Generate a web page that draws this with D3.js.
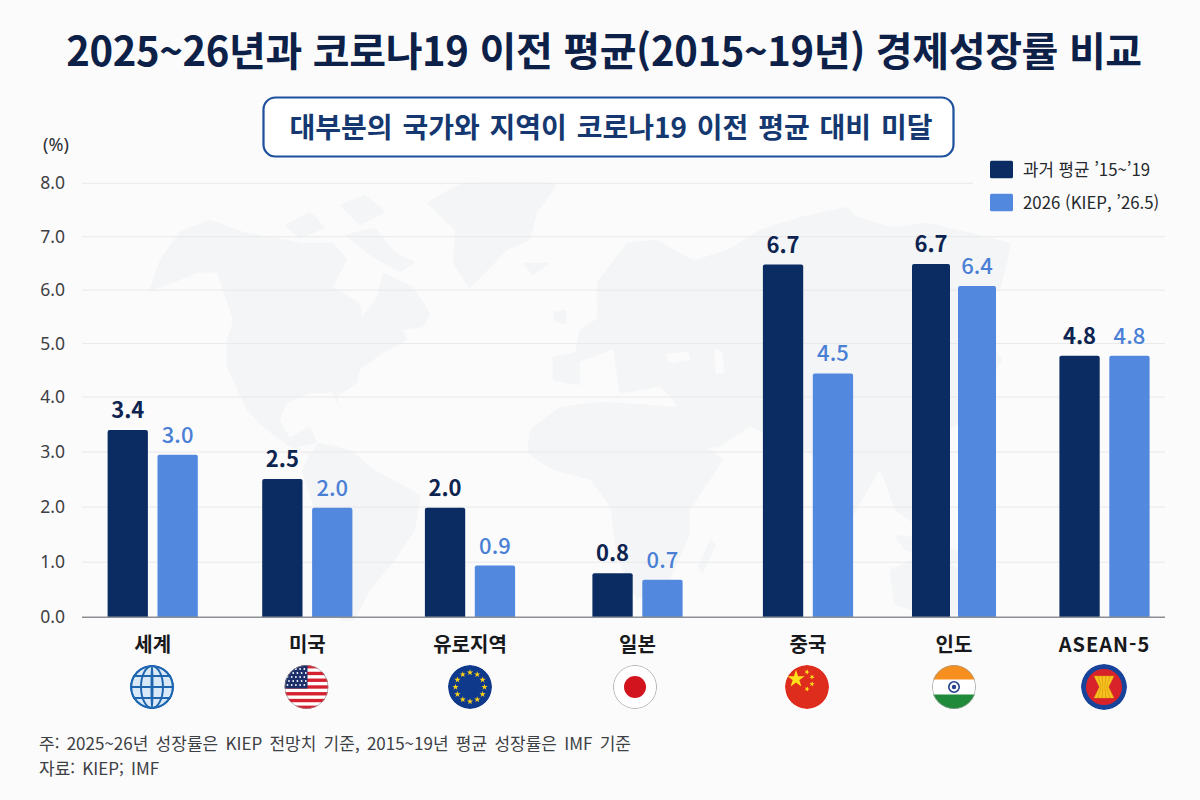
<!DOCTYPE html>
<html lang="ko">
<head>
<meta charset="utf-8">
<script src="https://cdnjs.cloudflare.com/ajax/libs/d3/7.8.5/d3.min.js"></script>
<style>
	html, body { margin: 0; padding: 0; background: #fbfbfb; }
	svg { display: block; }
	text { font-family: "Noto Sans CJK KR", "Noto Sans", sans-serif; }
</style>
</head>
<body>
<div id="chart"></div>
<script>
let categories	= ["세계", "미국", "유로지역", "일본", "중국", "인도", "ASEAN-5"];
// bar lengths as drawn in the picture, they differ a bit from the printed labels
let pastBars	= [3.40, 2.51, 1.99, 0.80, 6.48, 6.49, 4.77];
let kiepBars	= [2.95, 1.99, 0.94, 0.68, 4.44, 6.08, 4.77];
let pastLabels	= ["3.4", "2.5", "2.0", "0.8", "6.7", "6.7", "4.8"];
let kiepLabels	= ["3.0", "2.0", "0.9", "0.7", "4.5", "6.4", "4.8"];
let yTicks		= [0, 1, 2, 3, 4, 5, 6, 7, 8];
let legendNames	= ["과거 평균 ’15~’19", "2026 (KIEP, ’26.5)"];

let navy = "#0b2c62", blue = "#5388df";
let width = 1200, height = 800;

let svg = d3.select("#chart").append("svg").attr("width", width).attr("height", height);
let defs = svg.append("defs");

// the axis of the picture is slightly uneven, lower half has wider steps
let y = d3.scaleLinear().domain([0, 4, 8]).range([617.3, 397, 183.3]);
// groups are not evenly spaced in the picture
let x0 = d3.scaleOrdinal().domain(categories).range([152.7, 307.3, 470, 637.5, 808, 954, 1104.5]);
let barW = (c) => (c === "인도" ? 38 : 40.3);
let gap = (c) => (c === "인도" ? 8 : 9.6);

// faint world map behind the chart, rough outlines only
let land = [
	[[150,290],[160,260],[180,232],[210,220],[247,233],[275,238],[303,243],[333,243],[347,260],[333,287],[360,303],[362,317],[377,297],[383,273],[413,287],[430,313],[423,327],[403,330],[407,340],[383,353],[360,370],[357,383],[337,397],[340,410],[333,393],[310,393],[287,403],[280,420],[290,437],[310,427],[317,443],[297,447],[320,462],[337,467],[318,456],[290,447],[263,427],[247,410],[227,367],[227,340],[233,320],[217,273],[197,273],[173,283]],
	[[427,203],[463,183],[557,183],[537,213],[530,240],[507,250],[470,288],[453,263],[455,230]],
	[[523,263],[550,263],[533,275]],
	[[285,225],[310,212],[325,228],[300,238]], [[340,205],[365,195],[385,212],[360,225]], [[345,235],[375,228],[395,252],[415,262],[400,272],[370,255]],
	[[318,443],[350,450],[375,470],[420,495],[415,530],[395,560],[370,590],[355,620],[340,620],[340,560],[315,510],[302,470]],
	[[530,430],[560,407],[600,402],[677,407],[700,443],[723,460],[690,510],[690,533],[670,580],[637,600],[617,557],[610,507],[590,480],[553,470],[528,453]],
	[[710,540],[716,545],[703,573],[698,567]],
	[[553,357],[575,352],[580,330],[597,318],[597,283],[627,243],[657,240],[693,260],[727,250],[760,230],[800,217],[847,207],[857,217],[893,227],[927,223],[1010,243],[1000,290],[975,300],[985,340],[960,375],[975,410],[950,430],[945,470],[915,500],[925,530],[895,510],[880,470],[850,520],[830,470],[805,450],[750,427],[720,447],[700,447],[673,400],[660,387],[620,393],[613,350],[580,362],[580,385],[553,380]],
	[[553,312],[566,310],[566,324],[555,322]],
	[[990,345],[1002,360],[985,385],[978,380]],
	[[895,535],[935,540],[965,555],[950,565],[905,550]],
	[[890,570],[925,555],[975,575],[985,610],[940,617],[895,605]]
];
let lakes = [
	[[665,354],[688,352],[690,360],[670,363]],
	[[714,348],[722,352],[724,372],[716,374]]
];
let closedLine = d3.line().curve(d3.curveCardinalClosed.tension(0.85));
svg.append("g").selectAll("path").data(land).enter().append("path")
	.attr("d", closedLine).attr("fill", "#f4f5f6");
svg.append("g").selectAll("path").data(lakes).enter().append("path")
	.attr("d", closedLine).attr("fill", "#fbfbfb");

// title
svg.append("text").attr("x", 604).attr("y", 66).attr("text-anchor", "middle")
	.attr("font-size", 40).attr("font-weight", 700).attr("fill", "#0d2148")
	.attr("letter-spacing", -0.35)
	.text("2025~26년과 코로나19 이전 평균(2015~19년) 경제성장률 비교");

// subtitle box
svg.append("rect").attr("x", 263.5).attr("y", 97.5).attr("width", 690).attr("height", 59).attr("rx", 12)
	.attr("fill", "#fff").attr("stroke", "#1d4f9c").attr("stroke-width", 2.2);
svg.append("text").attr("x", 611).attr("y", 138).attr("text-anchor", "middle")
	.attr("font-size", 28).attr("font-weight", 700).attr("fill", "#14386f")
	.attr("word-spacing", 2)
	.text("대부분의 국가와 지역이 코로나19 이전 평균 대비 미달");

// grid and y axis
let g = svg.append("g");
g.selectAll(".grid").data(yTicks.slice(1)).enter().append("line")
	.attr("x1", 82).attr("x2", (d) => (d === 8 ? 973 : 1165))
	.attr("y1", (d) => y(d)).attr("y2", (d) => y(d))
	.attr("stroke", "#e8e9ea").attr("stroke-width", 1);

let yAxis = g.append("g").attr("transform", "translate(65,0)")
	.call(d3.axisLeft(y).tickValues(yTicks).tickSize(0).tickPadding(0).tickFormat(d3.format(".1f")));
yAxis.select(".domain").remove();
yAxis.selectAll("text").attr("font-size", 17.5).attr("fill", "#3d4044")
	.style("font-family", '"Noto Sans", sans-serif');

svg.append("text").attr("x", 56).attr("y", 151).attr("text-anchor", "middle")
	.attr("font-size", 18).attr("fill", "#2b2e33")
	.style("font-family", '"Noto Sans", sans-serif').text("(%)");

// bars
function drawBars(values, labels, isPast, color) {
	categories.forEach((c, i) => {
		let top = y(values[i]), w = barW(c);
		let left = isPast ? x0(c) - gap(c) / 2 - w : x0(c) + gap(c) / 2;
		g.append("path")
			.attr("d", `M${left},${y(0)}V${top + 2}q0,-2 2,-2H${left + w - 2}q2,0 2,2V${y(0)}Z`)
			.attr("fill", color);
		g.append("text")
			.attr("x", left + w / 2).attr("y", top - 12)
			.attr("text-anchor", "middle").attr("font-size", 22)
			.attr("font-weight", isPast ? 700 : 500)
			.attr("fill", isPast ? "#0d2450" : "#4a7fd6")
			.text(labels[i]);
	});
}
drawBars(pastBars, pastLabels, true, navy);
drawBars(kiepBars, kiepLabels, false, blue);

// baseline
g.append("line").attr("x1", 82).attr("x2", 1165).attr("y1", y(0)).attr("y2", y(0))
	.attr("stroke", "#8c8f93").attr("stroke-width", 1.5);

// category names
g.selectAll(".cat").data(categories).enter().append("text")
	.attr("x", (d) => x0(d)).attr("y", 652).attr("text-anchor", "middle")
	.attr("font-size", 20).attr("font-weight", 700).attr("fill", "#17191c")
	.attr("letter-spacing", (d) => (d === "ASEAN-5" ? 1 : 0))
	.text((d) => d);

// flags
function badge(cx, r, id) {
	defs.append("clipPath").attr("id", id).append("circle").attr("cx", 0).attr("cy", 0).attr("r", r);
	return svg.append("g").attr("transform", `translate(${cx},687)`)
		.append("g").attr("clip-path", `url(#${id})`);
}
function star(f, x, y, size, color, rot) {
	f.append("path").attr("d", d3.symbol().type(d3.symbolStar).size(size)())
		.attr("transform", `translate(${x},${y}) rotate(${rot || 0})`).attr("fill", color);
}
let r = 22;

let world = badge(152, r, "f-world");
world.append("circle").attr("r", r).attr("fill", "#d9e9f8");
[21, 11, 0.5].forEach((rx) => world.append("ellipse").attr("rx", rx).attr("ry", 21)
	.attr("fill", "none").attr("stroke", "#1f66b0").attr("stroke-width", 2));
[-11, 0, 11].forEach((dy) => world.append("line").attr("x1", -22).attr("x2", 22).attr("y1", dy).attr("y2", dy)
	.attr("stroke", "#1f66b0").attr("stroke-width", 2));
world.append("circle").attr("r", 21).attr("fill", "none").attr("stroke", "#1f66b0").attr("stroke-width", 2.2);

let usa = badge(306.5, r, "f-usa");
usa.append("rect").attr("x", -r).attr("y", -r).attr("width", 2 * r).attr("height", 2 * r).attr("fill", "#fff");
d3.range(7).forEach((i) => usa.append("rect").attr("x", -r).attr("y", -r + i * 2 * r / 6.5 )
	.attr("width", 2 * r).attr("height", 2 * r / 13).attr("fill", "#d5202f"));
usa.append("rect").attr("x", -r).attr("y", -r).attr("width", 23).attr("height", 23.5).attr("fill", "#1d2f6b");
d3.range(5).forEach((row) => d3.range(5).forEach((col) => usa.append("circle")
	.attr("cx", -r + 3 + col * 4.2 + (row % 2) * 1.5).attr("cy", -r + 4 + row * 4)
	.attr("r", 0.9).attr("fill", "#fff")));
usa.append("circle").attr("r", r - 0.4).attr("fill", "none").attr("stroke", "#8a8d92").attr("stroke-width", 0.8);

let eu = badge(470, r, "f-eu");
eu.append("circle").attr("r", r).attr("fill", "#0f3a8c");
d3.range(12).forEach((i) => {
	let a = i * Math.PI / 6;
	star(eu, 14.5 * Math.sin(a), -14.5 * Math.cos(a), 12, "#fcd116");
});

let japan = badge(635, r, "f-japan");
japan.append("circle").attr("r", r - 0.4).attr("fill", "#fff").attr("stroke", "#9a9a9a").attr("stroke-width", 0.8);
japan.append("circle").attr("r", 11).attr("fill", "#d2141f");

let china = badge(807, r, "f-china");
china.append("circle").attr("r", r).attr("fill", "#de2d1c");
star(china, -11, -8, 95, "#fde21a");
star(china, 0, -15, 9, "#fde21a", 20);
star(china, 5, -10, 9, "#fde21a", 40);
star(china, 5, -3, 9, "#fde21a", 10);
star(china, 0, 2, 9, "#fde21a", 20);

let india = badge(954, r, "f-india");
india.append("rect").attr("x", -r).attr("y", -r).attr("width", 2 * r).attr("height", 2 * r).attr("fill", "#fff");
india.append("rect").attr("x", -r).attr("y", -r).attr("width", 2 * r).attr("height", 14.5).attr("fill", "#f78f1e");
india.append("rect").attr("x", -r).attr("y", 7.5).attr("width", 2 * r).attr("height", 14.5).attr("fill", "#1f8a3a");
india.append("circle").attr("r", 5.2).attr("fill", "#fff").attr("stroke", "#24408e").attr("stroke-width", 1.6);
india.append("circle").attr("r", 2.2).attr("fill", "#24408e");
india.append("circle").attr("r", r - 0.4).attr("fill", "none").attr("stroke", "#9a9a9a").attr("stroke-width", 0.8);

let asean = badge(1104, 23, "f-asean");
asean.append("circle").attr("r", 23).attr("fill", "#17449a");
asean.append("circle").attr("r", 18).attr("fill", "#d8232a");
[-8, -4, 0, 4, 8].forEach((dx) => {
	asean.append("path")
		.attr("d", `M${dx - 2},-11L${dx + 2},-11L${dx * 0.45 + 1},0L${dx + 2},11L${dx - 2},11L${dx * 0.45 - 1},0Z`)
		.attr("fill", "#f7c41f").attr("stroke", "#d79a10").attr("stroke-width", 0.4);
});

// legend
legendNames.forEach((name, i) => {
	let ly = 160.7 + i * 33;
	svg.append("rect").attr("x", 990).attr("y", ly).attr("width", 23).attr("height", 17.5).attr("rx", 1.5)
		.attr("fill", i ? blue : navy);
	svg.append("text").attr("x", 1023).attr("y", ly + 15.5)
		.attr("font-size", 16.8).attr("fill", "#25282c").text(name);
});

// footnotes
svg.append("text").attr("x", 39).attr("y", 750).attr("font-size", 17).attr("fill", "#3d4044")
	.attr("word-spacing", 2.5)
	.text("주: 2025~26년 성장률은 KIEP 전망치 기준, 2015~19년 평균 성장률은 IMF 기준");
svg.append("text").attr("x", 39).attr("y", 775).attr("font-size", 17).attr("fill", "#3d4044")
	.attr("word-spacing", 2.5)
	.text("자료: KIEP; IMF");
</script>
</body>
</html>
